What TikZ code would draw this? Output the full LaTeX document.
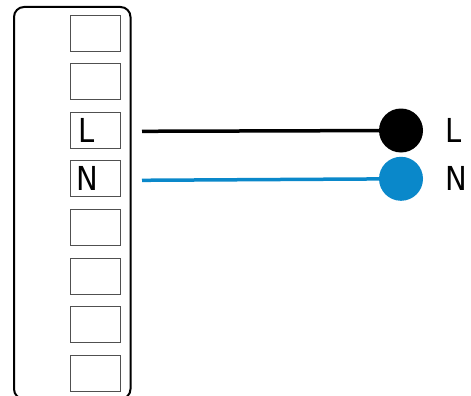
\documentclass[tikz,border=0pt]{standalone}
\usepackage{fontspec}
\setmainfont{DejaVu Sans}[FakeStretch=0.88]
\usepackage{xcolor}
\usepackage{tikz}
\usetikzlibrary{calc}
\definecolor{ink}{HTML}{000000}
\definecolor{frame}{HTML}{505050}
\definecolor{wireblue}{HTML}{0A88CA}
\tikzset{
  housing/.style={line width=2pt, draw=ink, rounded corners=10pt},
  term/.style={draw=frame, line width=0.9pt, minimum width=50pt, minimum height=36pt, inner sep=0pt},
  wire/.style={line width=3.5pt},
  pin/.style={circle, inner sep=0pt, minimum size=44pt},
  lab/.style={text=ink, font=\fontsize{33}{33}\selectfont, inner sep=0pt}
}

\begin{document}
\begin{tikzpicture}[x=1pt,y=-1pt]
  \useasboundingbox (0,0) rectangle (471,396);

  % housing
  \draw[housing] (14,7) rectangle (130.5,399);

  % terminals
  \foreach \i in {1,...,8}{
    \node[term] (t\i) at (95,{33+48.6*(\i-1)}) {};
  }
  \node[lab, anchor=base] (tL) at ($(t3.center)+(-8.5,11.8)$) {L};
  \node[lab, anchor=base] (tN) at ($(t4.center)+(-7.5,11.8)$) {N};

  % pins
  \node[pin, fill=ink] (pL) at (401,130.5) {};
  \node[pin, fill=wireblue] (pN) at (401,178.8) {};

  % wires
  \coordinate (wL) at (142,131.3);
  \coordinate (wN) at (142,180.3);
  \draw[wire, draw=ink] (wL) -- (pL);
  \draw[wire, draw=wireblue] (wN) -- (pN);

  % pin labels
  \node[lab, anchor=base west] (lL) at ($(pL.center)+(44.5,11.5)$) {L};
  \node[lab, anchor=base west] (lN) at ($(pN.center)+(44.5,11.2)$) {N};
\end{tikzpicture}
\end{document}
